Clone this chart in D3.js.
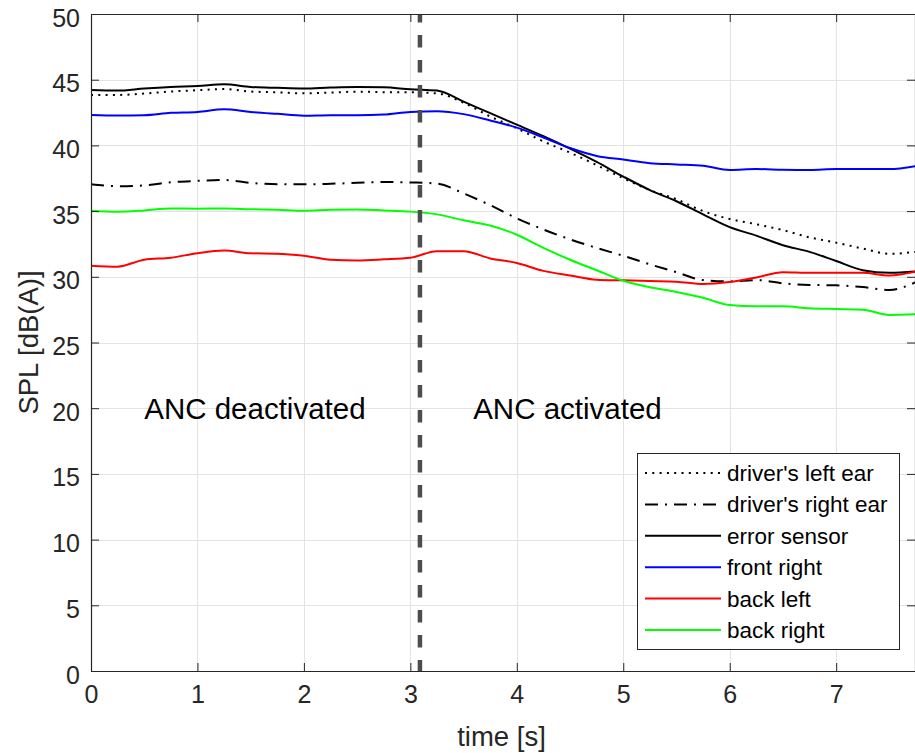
<!DOCTYPE html>
<html>
<head>
<meta charset="utf-8">
<script src="https://cdn.jsdelivr.net/npm/d3@7"></script>
<style>
  html, body { margin: 0; padding: 0; background: #fff; }
  svg { display: block; font-family: "Liberation Sans", Arial, Helvetica, sans-serif; }
</style>
</head>
<body>
<svg id="chart" width="915" height="753"></svg>
<script>
// Sample times [s]
const time = [0, 0.25, 0.5, 0.75, 1, 1.25, 1.5, 1.75, 2, 2.25, 2.5, 2.75, 3, 3.25, 3.5, 3.75,
              4, 4.25, 4.5, 4.75, 5, 5.25, 5.5, 5.75, 6, 6.25, 6.5, 6.75, 7, 7.25, 7.5, 7.75];

// SPL [dB(A)] per microphone position
const driversLeftEar = [43.84, 43.84, 43.95, 44.10, 44.20, 44.29, 44.10, 44.04, 43.96, 44.02, 44.09, 44.05, 44.04, 43.96, 43.25, 42.20,
                        41.30, 40.30, 39.45, 38.50, 37.50, 36.60, 35.90, 35.00, 34.40, 34.00, 33.55, 33.00, 32.60, 32.15, 31.75, 31.90];
const driversRightEar = [37.04, 36.90, 36.95, 37.20, 37.30, 37.37, 37.15, 37.04, 37.04, 37.08, 37.15, 37.22, 37.18, 37.10, 36.35, 35.45,
                         34.45, 33.60, 32.85, 32.20, 31.60, 30.95, 30.35, 29.75, 29.65, 29.75, 29.50, 29.38, 29.35, 29.22, 29.00, 29.60];
const errorSensor = [44.22, 44.17, 44.33, 44.45, 44.52, 44.65, 44.45, 44.38, 44.33, 44.40, 44.44, 44.42, 44.27, 44.17, 43.33, 42.45,
                     41.58, 40.70, 39.75, 38.74, 37.63, 36.60, 35.75, 34.75, 33.78, 33.13, 32.40, 31.90, 31.20, 30.50, 30.30, 30.40];
const frontRight = [42.31, 42.27, 42.30, 42.48, 42.55, 42.75, 42.55, 42.40, 42.26, 42.30, 42.30, 42.35, 42.55, 42.60, 42.38, 41.90,
                    41.35, 40.60, 39.80, 39.20, 38.92, 38.65, 38.55, 38.45, 38.13, 38.20, 38.15, 38.13, 38.20, 38.20, 38.20, 38.43];
const backLeft = [30.85, 30.77, 31.30, 31.45, 31.80, 32.00, 31.79, 31.76, 31.60, 31.30, 31.25, 31.33, 31.45, 31.95, 31.95, 31.40,
                  31.05, 30.45, 30.10, 29.78, 29.73, 29.68, 29.63, 29.45, 29.60, 29.95, 30.35, 30.30, 30.30, 30.30, 30.10, 30.40];
const backRight = [35.03, 34.95, 35.05, 35.20, 35.18, 35.20, 35.14, 35.10, 35.03, 35.10, 35.12, 35.05, 34.96, 34.75, 34.30, 33.90,
                   33.20, 32.20, 31.30, 30.50, 29.70, 29.20, 28.85, 28.40, 27.85, 27.75, 27.75, 27.60, 27.55, 27.50, 27.10, 27.15];

const seriesNames = ["driver's left ear", "driver's right ear", "error sensor", "front right", "back left", "back right"];
const seriesValues = [driversLeftEar, driversRightEar, errorSensor, frontRight, backLeft, backRight];

const xTicks = [0, 1, 2, 3, 4, 5, 6, 7];
const yTicks = [0, 5, 10, 15, 20, 25, 30, 35, 40, 45, 50];
const ancSwitchTime = 3.09;
const phaseLabels = [{ t: 0.5, text: "ANC deactivated" }, { t: 3.59, text: "ANC activated" }];
const phaseLabelLevel = 19.2;

// Styling per series
const styles = [
  { color: "#000000", dash: "2,5.3" },
  { color: "#000000", dash: "13,7,2,7" },
  { color: "#000000", dash: null },
  { color: "#0000ff", dash: null },
  { color: "#ff0000", dash: null },
  { color: "#00ff00", dash: null }
];

const svg = d3.select("#chart");
const plotLeft = 91, plotRight = 916, plotTop = 14, plotBottom = 671;
const axisColor = "#262626";

const x = d3.scaleLinear().domain([0, 7.75]).range([plotLeft, plotRight]);
const y = d3.scaleLinear().domain([0, 50]).range([plotBottom, plotTop]);

svg.append("rect").attr("x", 0).attr("y", 0).attr("width", 915).attr("height", 753).attr("fill", "#fff");

// Grid
const grid = svg.append("g").attr("stroke", "#e3e3e3").attr("stroke-width", 1);
grid.selectAll("line.gx").data(xTicks).join("line")
  .attr("class", "gx")
  .attr("x1", d => Math.round(x(d)) + 0.5).attr("x2", d => Math.round(x(d)) + 0.5)
  .attr("y1", plotTop).attr("y2", plotBottom);
grid.selectAll("line.gy").data(yTicks).join("line")
  .attr("class", "gy")
  .attr("y1", d => Math.round(y(d)) + 0.5).attr("y2", d => Math.round(y(d)) + 0.5)
  .attr("x1", plotLeft).attr("x2", plotRight);

// Clip for data
svg.append("clipPath").attr("id", "plotClip")
  .append("rect").attr("x", plotLeft).attr("y", plotTop)
  .attr("width", plotRight - plotLeft).attr("height", plotBottom - plotTop);

const plot = svg.append("g").attr("clip-path", "url(#plotClip)");

const line = d3.line()
  .x((d, i) => x(time[i]))
  .y(d => y(d))
  .curve(d3.curveMonotoneX);

seriesValues.forEach((vals, k) => {
  plot.append("path")
    .datum(vals)
    .attr("d", line)
    .attr("fill", "none")
    .attr("stroke", styles[k].color)
    .attr("stroke-width", 2)
    .attr("stroke-dasharray", styles[k].dash)
    .attr("stroke-linejoin", "round");
});

// ANC switch-on marker
plot.append("line")
  .attr("x1", x(ancSwitchTime)).attr("x2", x(ancSwitchTime))
  .attr("y1", y(50)).attr("y2", y(0))
  .attr("stroke", "#4d4d4d")
  .attr("stroke-width", 4.5)
  .attr("stroke-dasharray", "12.5,12.5")
  .attr("stroke-dashoffset", 4);

// Phase labels
svg.selectAll("text.phase").data(phaseLabels).join("text")
  .attr("class", "phase")
  .attr("x", d => x(d.t))
  .attr("y", y(phaseLabelLevel))
  .attr("font-size", 29.5)
  .attr("fill", "#000")
  .text(d => d.text);

// Axes
function styleAxis(g) {
  g.selectAll("path.domain").attr("stroke", axisColor).attr("stroke-width", 1.2);
  g.selectAll(".tick line").attr("stroke", axisColor).attr("stroke-width", 1);
  g.selectAll(".tick text").attr("fill", axisColor).attr("font-size", 25)
    .attr("font-family", "'Liberation Sans', Arial, Helvetica, sans-serif");
}

svg.append("g").attr("transform", `translate(0,${plotBottom})`)
  .call(d3.axisBottom(x).tickValues(xTicks).tickSize(-8).tickSizeOuter(0).tickPadding(14).tickFormat(d3.format("d")))
  .call(styleAxis);
svg.append("g").attr("transform", `translate(${plotLeft},0)`)
  .call(d3.axisLeft(y).tickValues(yTicks).tickSize(-8).tickSizeOuter(0).tickPadding(11).tickFormat(d3.format("d")))
  .call(styleAxis)
  .call(g => g.selectAll(".tick text").attr("dy", "0.48em"));
svg.append("g").attr("transform", `translate(0,${plotTop})`)
  .call(d3.axisTop(x).tickValues(xTicks).tickSize(-8).tickSizeOuter(0).tickFormat(""))
  .call(styleAxis);
svg.append("g").attr("transform", `translate(${plotRight - 1},0)`)
  .call(d3.axisRight(y).tickValues(yTicks).tickSize(-8).tickSizeOuter(0).tickFormat(""))
  .call(styleAxis);

// Axis titles
svg.append("text")
  .attr("x", (x(0) + x(7.75)) / 2 - 2)
  .attr("y", 746)
  .attr("text-anchor", "middle")
  .attr("font-size", 27.5)
  .attr("fill", axisColor)
  .text("time [s]");
svg.append("text")
  .attr("transform", `translate(38,${(plotTop + plotBottom) / 2}) rotate(-90)`)
  .attr("text-anchor", "middle")
  .attr("font-size", 27.5)
  .attr("fill", axisColor)
  .text("SPL [dB(A)]");

// Legend
const legend = svg.append("g").attr("transform", "translate(637,453)");
legend.append("rect")
  .attr("x", 0.5).attr("y", 0.5).attr("width", 262).attr("height", 196)
  .attr("fill", "#fff").attr("stroke", axisColor).attr("stroke-width", 1);
const rowH = 31.4, row0 = 20;
seriesNames.forEach((name, k) => {
  const cy = row0 + k * rowH;
  legend.append("line")
    .attr("x1", 8).attr("x2", 84).attr("y1", cy).attr("y2", cy)
    .attr("stroke", styles[k].color).attr("stroke-width", 2)
    .attr("stroke-dasharray", styles[k].dash);
  legend.append("text")
    .attr("x", 90).attr("y", cy + 8)
    .attr("font-size", 22.5)
    .attr("fill", "#000")
    .text(name);
});
</script>
</body>
</html>
